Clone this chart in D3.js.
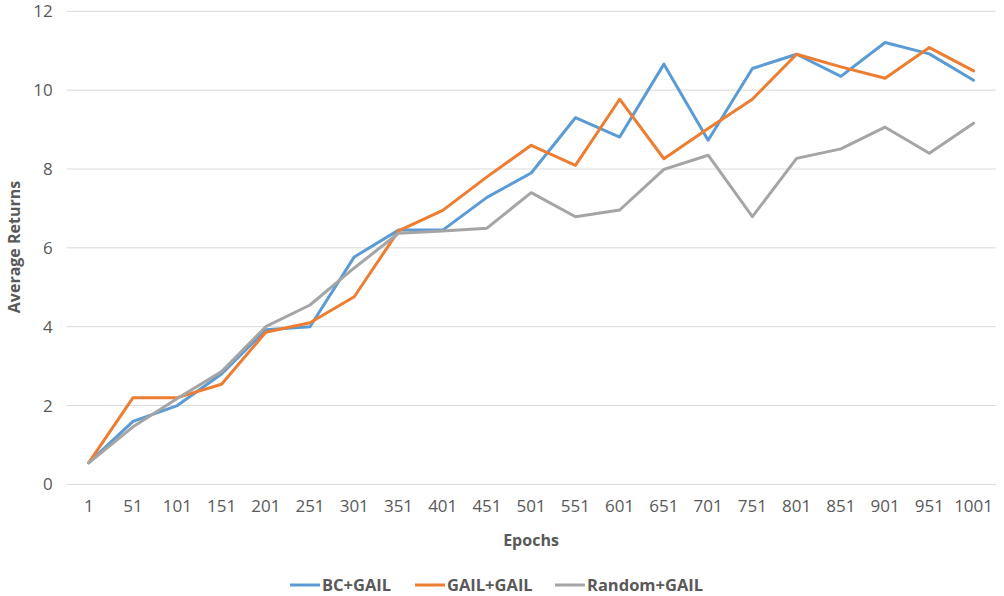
<!DOCTYPE html>
<html>
<head>
<meta charset="utf-8">
<script src="https://cdn.jsdelivr.net/npm/d3@7"></script>
<style>
  body { margin: 0; background: #fff; }
  svg { display: block; font-family: "Open Sans", sans-serif; }
</style>
</head>
<body>
<svg id="chart" width="1004" height="596"></svg>
<script>
const epochs = ["1", "51", "101", "151", "201", "251", "301", "351", "401", "451", "501",
  "551", "601", "651", "701", "751", "801", "851", "901", "951", "1001"];

const bcGail = [0.55, 1.6, 2.0, 2.8, 3.92, 4.0, 5.77, 6.45, 6.45, 7.28, 7.9,
  9.3, 8.81, 10.66, 8.73, 10.55, 10.91, 10.35, 11.21, 10.92, 10.25];
const gailGail = [0.55, 2.2, 2.2, 2.54, 3.86, 4.1, 4.76, 6.43, 6.95, 7.8, 8.6,
  8.09, 9.77, 8.26, 9.03, 9.77, 10.91, 10.59, 10.3, 11.08, 10.49];
const randomGail = [0.55, 1.46, 2.18, 2.86, 4.0, 4.55, 5.49, 6.37, 6.43, 6.5, 7.4,
  6.79, 6.96, 7.99, 8.35, 6.79, 8.27, 8.51, 9.06, 8.4, 9.16];

const seriesNames = ["BC+GAIL", "GAIL+GAIL", "Random+GAIL"];
const seriesColors = ["#5B9BD5", "#ED7D31", "#A5A5A5"];
const yTicks = [0, 2, 4, 6, 8, 10, 12];

const series = [bcGail, gailGail, randomGail].map((values, i) => ({
  name: seriesNames[i],
  color: seriesColors[i],
  values: values
}));

const svg = d3.select("#chart");
const plot = { left: 66.7, right: 995.7, top: 11.3, bottom: 484.4 };

const x = d3.scaleBand().domain(epochs).range([plot.left, plot.right]).padding(0);
const y = d3.scaleLinear().domain([0, 12]).range([plot.bottom, plot.top]);

// gridlines
svg.append("g")
  .selectAll("line")
  .data(yTicks)
  .join("line")
  .attr("x1", plot.left)
  .attr("x2", plot.right)
  .attr("y1", d => y(d))
  .attr("y2", d => y(d))
  .attr("stroke", "#D9D9D9")
  .attr("stroke-width", 1);

// y axis labels
const yAxis = svg.append("g")
  .attr("transform", `translate(${plot.left - 14},0)`)
  .call(d3.axisLeft(y).tickValues(yTicks).tickSize(0).tickPadding(0));
yAxis.select(".domain").remove();
yAxis.selectAll("text")
  .attr("fill", "#595959")
  .style("font-size", "17px")
  .style("font-family", "'Open Sans', sans-serif");

// x axis labels
const xAxis = svg.append("g")
  .attr("transform", `translate(0,${plot.bottom + 16})`)
  .call(d3.axisBottom(x).tickSize(0).tickPadding(0));
xAxis.select(".domain").remove();
xAxis.selectAll("text")
  .attr("fill", "#595959")
  .style("font-size", "17px")
  .style("font-family", "'Open Sans', sans-serif");

// lines
const line = d3.line()
  .x((d, i) => x(epochs[i]) + x.bandwidth() / 2)
  .y(d => y(d));

svg.append("g")
  .selectAll("path")
  .data(series)
  .join("path")
  .attr("d", d => line(d.values))
  .attr("fill", "none")
  .attr("stroke", d => d.color)
  .attr("stroke-width", 3)
  .attr("stroke-linejoin", "round")
  .attr("stroke-linecap", "round");

// axis titles
svg.append("text")
  .attr("x", 531)
  .attr("y", 546)
  .attr("text-anchor", "middle")
  .attr("fill", "#595959")
  .style("font-size", "16px")
  .style("font-weight", "bold")
  .text("Epochs");

svg.append("text")
  .attr("transform", "translate(20,247) rotate(-90)")
  .attr("text-anchor", "middle")
  .attr("fill", "#595959")
  .style("font-size", "16px")
  .style("font-weight", "bold")
  .text("Average Returns");

// legend
const legendX = [290, 415, 555];
const legend = svg.append("g")
  .selectAll("g")
  .data(series)
  .join("g")
  .attr("transform", (d, i) => `translate(${legendX[i]},585)`);

legend.append("line")
  .attr("x1", 0)
  .attr("x2", 30)
  .attr("stroke", d => d.color)
  .attr("stroke-width", 3);

legend.append("text")
  .attr("x", 32)
  .attr("dy", "0.35em")
  .attr("fill", "#595959")
  .style("font-size", "16.5px")
  .style("font-weight", "bold")
  .text(d => d.name);
</script>
</body>
</html>
